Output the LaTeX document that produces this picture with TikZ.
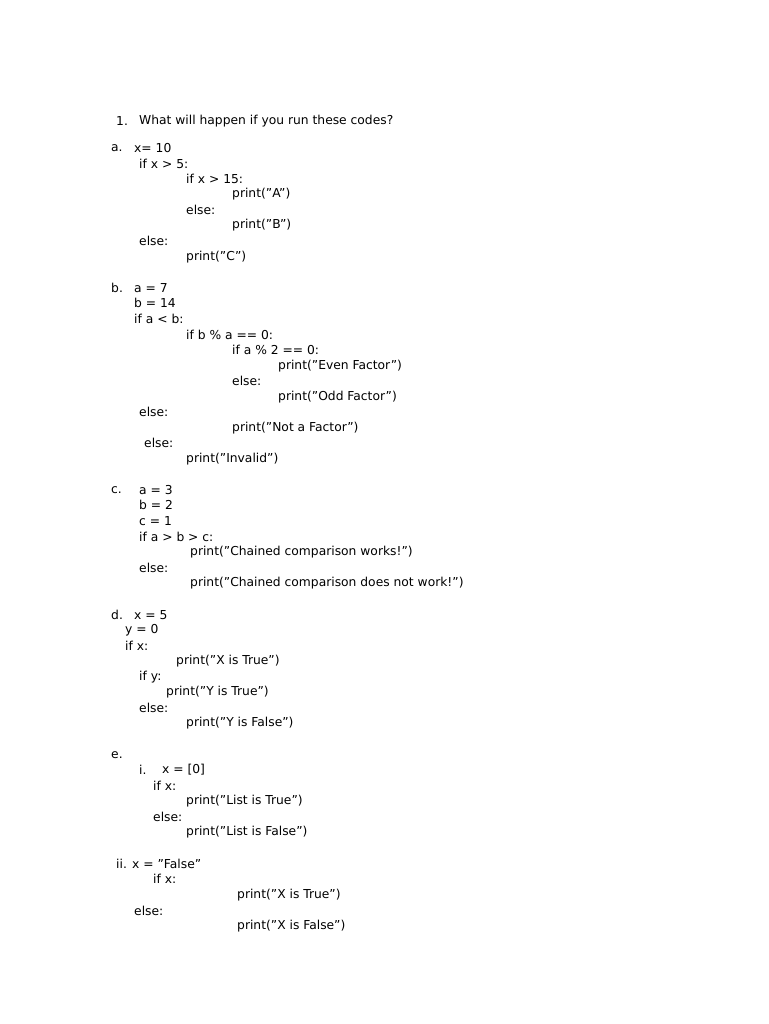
\documentclass[tikz,border=0pt]{standalone}
\usepackage{fontspec}
\setmainfont{DejaVu Sans}
\tikzset{ln/.style={anchor=west, inner sep=0pt, font=\fontsize{12.3}{14}\selectfont}}
\begin{document}
\begin{tikzpicture}[x=1pt, y=-1pt]
\useasboundingbox (0,0) rectangle (768,1024);
% Question
    \node[ln] (q1n) at (116,121) {1.};
    \node[ln] (q1) at (139,121) {What will happen if you run these codes?};
% Part a
    \node[ln] (an) at (111,148) {a.};
    \node[ln] (a1) at (134,148) {x= 10};
    \node[ln] (a2) at (139,164) {if x > 5:};
    \node[ln] (a3) at (186,179) {if x > 15:};
    \node[ln] (a4) at (232,194) {print("A")};
    \node[ln] (a5) at (186,210) {else:};
    \node[ln] (a6) at (232,225) {print("B")};
    \node[ln] (a7) at (139,241) {else:};
    \node[ln] (a8) at (186,257) {print("C")};
% Part b
    \node[ln] (bn) at (111,288) {b.};
    \node[ln] (b1) at (134,288) {a = 7};
    \node[ln] (b2) at (134,303) {b = 14};
    \node[ln] (b3) at (134,319) {if a < b:};
    \node[ln] (b4) at (186,335) {if b \% a == 0:};
    \node[ln] (b5) at (232,350) {if a \% 2 == 0:};
    \node[ln] (b6) at (278,366) {print("Even Factor")};
    \node[ln] (b7) at (232,381) {else:};
    \node[ln] (b8) at (278,397) {print("Odd Factor")};
    \node[ln] (b9) at (139,412) {else:};
    \node[ln] (b10) at (232,428) {print("Not a Factor")};
    \node[ln] (b11) at (144,443) {else:};
    \node[ln] (b12) at (186,459) {print("Invalid")};
% Part c
    \node[ln] (cn) at (111,490) {c.};
    \node[ln] (c1) at (139,490) {a = 3};
    \node[ln] (c2) at (139,505) {b = 2};
    \node[ln] (c3) at (139,521) {c = 1};
    \node[ln] (c4) at (139,537) {if a > b > c:};
    \node[ln] (c5) at (190,552) {print("Chained comparison works!")};
    \node[ln] (c6) at (139,568) {else:};
    \node[ln] (c7) at (190,583) {print("Chained comparison does not work!")};
% Part d
    \node[ln] (dn) at (111,615) {d.};
    \node[ln] (d1) at (134,615) {x = 5};
    \node[ln] (d2) at (125,630) {y = 0};
    \node[ln] (d3) at (125,646) {if x:};
    \node[ln] (d4) at (176,661) {print("X is True")};
    \node[ln] (d5) at (139,677) {if y:};
    \node[ln] (d6) at (166,692) {print("Y is True")};
    \node[ln] (d7) at (139,708) {else:};
    \node[ln] (d8) at (186,723) {print("Y is False")};
% Part e
    \node[ln] (en) at (111,755) {e.};
    \node[ln] (e1n) at (139,770) {i.};
    \node[ln] (e1) at (162,770) {x = [0]};
    \node[ln] (e2) at (153,786) {if x:};
    \node[ln] (e3) at (186,801) {print("List is True")};
    \node[ln] (e4) at (153,817) {else:};
    \node[ln] (e5) at (186,832) {print("List is False")};
    \node[ln] (e6) at (116,864) {ii. x = "False"};
    \node[ln] (e7) at (153,879) {if x:};
    \node[ln] (e8) at (237,895) {print("X is True")};
    \node[ln] (e9) at (134,911) {else:};
    \node[ln] (e10) at (237,926) {print("X is False")};
\end{tikzpicture}
\end{document}
